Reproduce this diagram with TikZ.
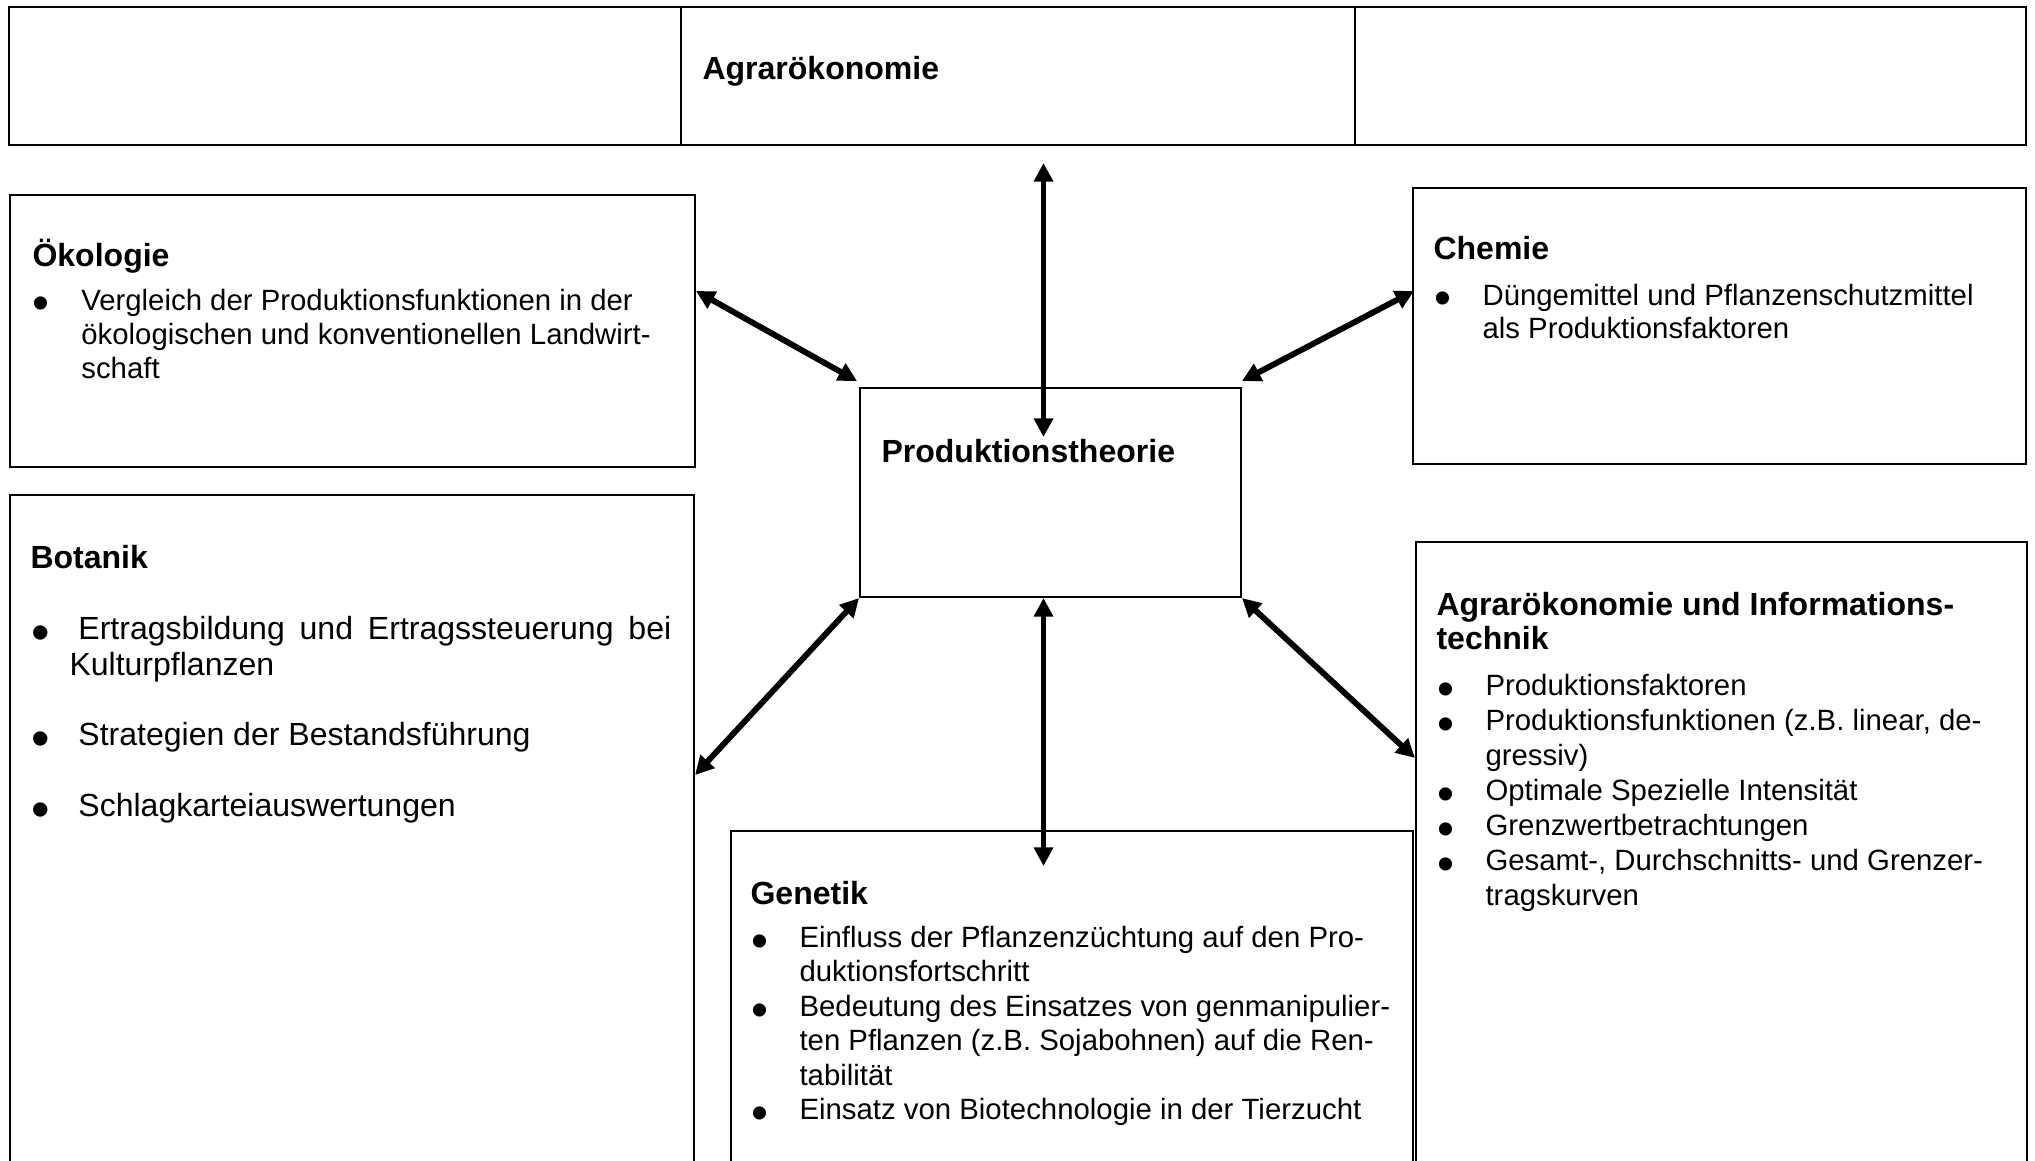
\documentclass[tikz,border=0pt]{standalone}
\usepackage{fontspec}
\setmainfont{Liberation Sans}
\usepackage{graphicx}
\usetikzlibrary{arrows.meta,calc,fit}

% bullet lists with a hanging indent
\newlength\hangw
\newcommand\bul{\smash{\raisebox{-0.34em}{\scalebox{1.65}{\textbullet}}}}
\newcommand\itm[1]{\par\hangindent=\hangw\hangafter=1\noindent\makebox[\hangw][l]{\bul}#1}
\newcommand\gap{\par\mbox{}\par}

\begin{document}
\begin{tikzpicture}[x=0.3748pt,y=-0.3748pt,
  box/.style={draw, line width=0.75pt, inner sep=0pt},
  topbox/.style={draw, line width=0.85pt, inner sep=0pt},
  head/.style={anchor=base west, inner sep=0pt, font=\fontsize{12}{13.1}\selectfont\bfseries},
  txt/.style={anchor=base west, inner sep=0pt},
  link/.style={{Triangle[length=7pt,width=7pt]}-{Triangle[length=7pt,width=7pt]}, line width=2.2pt},
]
\useasboundingbox (0,0) rectangle (2035,1160);
\clip (0,0) rectangle (2035,1160);

% header row
\node[topbox, fit={(9,7) (681,145)}] (ag1) {};
\node[topbox, fit={(681,7) (1355,145)}] (ag2) {};
\node[topbox, fit={(1355,7) (2026,145)}] (ag3) {};
\node[head] (agT) at (702,79) {Agrarökonomie};

% subject boxes
\node[box, fit={(10,195) (695,467)}] (oeko) {};
\node[box, fit={(1413,188) (2026,464)}] (chem) {};
\node[box, fit={(860,388) (1241,597)}] (prod) {};
\node[box, fit={(10,495) (694,1190)}] (bot) {};
\node[box, fit={(1416,542) (2027,1190)}] (agri) {};
\node[box, fit={(731,831) (1413,1190)}] (gen) {};

% Ökologie
\node[head] (oekoT) at (32,266) {Ökologie};
\node[txt] (oekoL) at (32,310) {\parbox[t]{300pt}{\fontsize{11}{12.75}\selectfont\setlength\hangw{18.3pt}%
  \itm{Vergleich der Produktionsfunktionen in der\\ökologischen und konventionellen Landwirt-\\schaft}}};

% Chemie
\node[head] (chemT) at (1433,259) {Chemie};
\node[txt] (chemL) at (1434,305) {\parbox[t]{300pt}{\fontsize{11}{12.6}\selectfont\setlength\hangw{18pt}%
  \itm{Düngemittel und Pflanzenschutzmittel\\als Produktionsfaktoren}}};

% Produktionstheorie
\node[head] (prodT) at (881,462) {Produktionstheorie};

% Botanik
\node[head] (botT) at (30,568) {Botanik};
\node[txt] (botL) at (31,639.5) {\parbox[t]{300pt}{\fontsize{12}{13.3}\selectfont\setlength\hangw{14.24pt}%
  \itm{\hspace{0.278em}\makebox[222.2pt][s]{Ertragsbildung und Ertragssteuerung bei}\\Kulturpflanzen}\gap
  \itm{\hspace{0.278em}Strategien der Bestandsführung}\gap
  \itm{\hspace{0.278em}Schlagkarteiauswertungen}}};

% Agrarökonomie und Informationstechnik
\node[head, align=left] (agriT) at (1436,615) {\parbox[t]{300pt}{Agrarökonomie und Informations-\\technik}};
\node[txt] (agriL) at (1437,695.5) {\parbox[t]{300pt}{\fontsize{11}{13.1}\selectfont\setlength\hangw{18pt}%
  \itm{Produktionsfaktoren}
  \itm{Produktionsfunktionen (z.B. linear, de-\\gressiv)}
  \itm{Optimale Spezielle Intensität}
  \itm{Grenzwertbetrachtungen}
  \itm{Gesamt-, Durchschnitts- und Grenzer-\\tragskurven}}};

% Genetik
\node[head] (genT) at (750,904) {Genetik};
\node[txt] (genL) at (751,947.5) {\parbox[t]{300pt}{\fontsize{11}{12.9}\selectfont\setlength\hangw{18pt}%
  \itm{Einfluss der Pflanzenzüchtung auf den Pro-\\duktionsfortschritt}
  \itm{Bedeutung des Einsatzes von genmanipulier-\\ten Pflanzen (z.B. Sojabohnen) auf die Ren-\\tabilität}
  \itm{Einsatz von Biotechnologie in der Tierzucht}}};

% connector end points
\coordinate (upTip) at (1043.5,163);
\coordinate (prodIn) at (1043.5,437);
\coordinate (genTip) at (1043.5,866);

% connectors
\draw[link] (upTip) -- (prodIn);
\draw[link] (upTip |- prod.south) -- (genTip);
\draw[link] ($(oeko.north east)+(0,97)$) -- ($(prod.north west)+(-2,-6)$);
\draw[link] ($(chem.north west)+(2,104)$) -- ($(prod.north east)+(0,-6)$);
\draw[link] (prod.south west) -- ($(bot.north east)+(0,281)$);
\draw[link] (prod.south east) -- ($(agri.north west)+(0,217)$);
\end{tikzpicture}
\end{document}
